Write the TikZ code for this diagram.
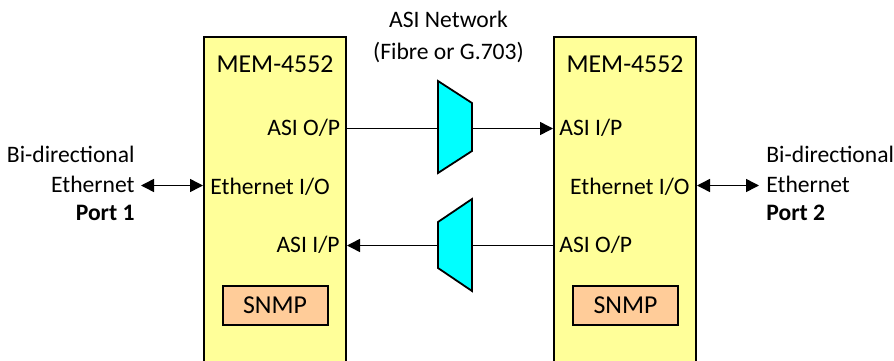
\documentclass[tikz,border=0pt]{standalone}
\usepackage{fontspec}
\setmainfont{Carlito}
\usetikzlibrary{arrows.meta}
\definecolor{boxyellow}{HTML}{FFFF99}
\definecolor{snmporange}{HTML}{FFCC99}
\definecolor{trapcyan}{HTML}{00FFFF}
\begin{document}
\begin{tikzpicture}[x=0.5pt,y=-0.5pt,
  membox/.style={draw, line width=1pt, fill=boxyellow, minimum width=71pt, minimum height=166.5pt, inner sep=0pt},
  snmpbox/.style={draw, line width=1pt, fill=snmporange, minimum width=52.5pt, minimum height=19.5pt, inner sep=0pt, font=\titlefont},
  lbl/.style={inner sep=0pt, font=\bodyfont},
  ttl/.style={inner sep=0pt, font=\titlefont},
  trap/.style={draw, line width=0.9pt, fill=trapcyan, line join=miter},
  conn/.style={draw, line width=0.75pt},
  tip/.style={-{Triangle[length=6.5pt,width=6.5pt]}},
  bitip/.style={{Triangle[length=6.5pt,width=6.5pt]}-{Triangle[length=6.5pt,width=6.5pt]}}
]
\newcommand{\bodyfont}{\fontsize{11.8pt}{14.75pt}\selectfont}
\newcommand{\titlefont}{\fontsize{12.9pt}{15.5pt}\selectfont}
\clip (0,0) rectangle (894,360);

% boxes
\node[membox] (L) at (275,203.5) {};
\node[membox] (R) at (625,203.5) {};
\node[ttl, anchor=base] (Lt) at (275,72.7) {MEM-4552};
\node[ttl, anchor=base] (Rt) at (625,72.7) {MEM-4552};
\node[snmpbox] (Ls) at (275,305) {SNMP};
\node[snmpbox] (Rs) at (625.5,305) {SNMP};

% port labels
\node[lbl, anchor=base east] (Lop) at (340.5,135) {ASI O/P};
\node[lbl, anchor=base west] (Leth) at (210,194) {Ethernet I/O};
\node[lbl, anchor=base east] (Lip) at (340,252) {ASI I/P};
\node[lbl, anchor=base west] (Rip) at (559,135) {ASI I/P};
\node[lbl, anchor=base east] (Reth) at (690,194) {Ethernet I/O};
\node[lbl, anchor=base west] (Rop) at (559,252) {ASI O/P};

% side labels
\node[lbl, anchor=base east] (b1) at (135,162.3) {Bi-directional};
\node[lbl, anchor=base east] (e1t) at (135,192.3) {Ethernet};
\node[lbl, anchor=base east] (p1) at (135,220.7) {\bfseries Port 1};
\node[lbl, anchor=base west] (b2) at (766,162.3) {Bi-directional};
\node[lbl, anchor=base west] (e2t) at (766,192.3) {Ethernet};
\node[lbl, anchor=base west] (p2) at (766,220.7) {\bfseries Port 2};

% network label
\node[lbl, anchor=base] (n1) at (448.5,27) {ASI Network};
\node[lbl, anchor=base] (n2) at (448.5,59) {(Fibre or G.703)};

% trapezoids
\draw[trap] (438,81) -- (472,103) -- (472,151) -- (438,173) -- cycle;
\draw[trap] (438,222) -- (472,199) -- (472,291) -- (438,268) -- cycle;
\coordinate (t1l) at (438,128.5);
\coordinate (t1r) at (472,128.5);
\coordinate (t2l) at (438,245.5);
\coordinate (t2r) at (472,245.5);
\coordinate (e1) at (141,185.5);
\coordinate (e2) at (759,185.5);

% connectors
\draw[conn] (L.east |- t1l) -- (t1l);
\draw[conn, tip] (t1r) -- (R.west |- t1r);
\draw[conn] (R.west |- t2r) -- (t2r);
\draw[conn, tip] (t2l) -- (L.east |- t2l);
\draw[conn, bitip] (e1) -- (L.west |- e1);
\draw[conn, bitip] (R.east |- e2) -- (e2);
\end{tikzpicture}
\end{document}
